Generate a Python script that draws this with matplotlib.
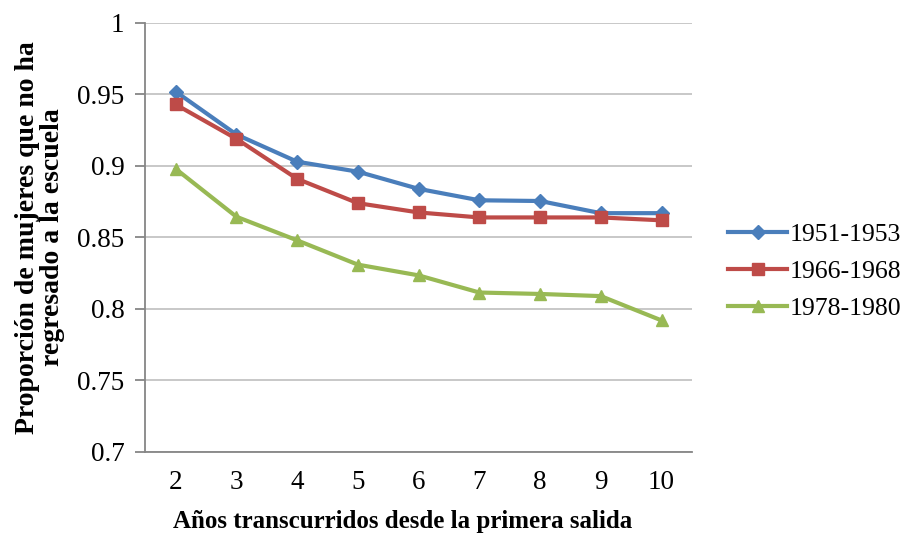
import matplotlib
matplotlib.use("Agg")
import matplotlib.pyplot as plt
from matplotlib.ticker import FixedLocator

plt.rcParams['font.family'] = ['Liberation Serif', 'DejaVu Serif']

years = [2, 3, 4, 5, 6, 7, 8, 9, 10]
cohort_1951 = [0.952, 0.922, 0.903, 0.896, 0.884, 0.876, 0.8755, 0.867, 0.867]
cohort_1966 = [0.943, 0.919, 0.891, 0.874, 0.8675, 0.864, 0.864, 0.864, 0.862]
cohort_1978 = [0.898, 0.8645, 0.848, 0.831, 0.8235, 0.8115, 0.8105, 0.809, 0.792]
series_labels = ['1951-1953', '1966-1968', '1978-1980']
y_ticks = [0.7, 0.75, 0.8, 0.85, 0.9, 0.95, 1.0]
y_tick_labels = ['0.7', '0.75', '0.8', '0.85', '0.9', '0.95', '1']

fig = plt.figure(figsize=(9.08, 5.34), dpi=100)
ax = fig.add_axes([0.16, 0.1536, 0.602, 0.8034])

styles = [
    dict(color='#4A7EBB', marker='D', markersize=7),
    dict(color='#BE4B48', marker='s', markersize=8),
    dict(color='#98B954', marker='^', markersize=9),
]
for vals, lab, st in zip([cohort_1951, cohort_1966, cohort_1978], series_labels, styles):
    ax.plot(years, vals, label=lab, linewidth=3, **st)

ax.set_xlim(1.5, 10.5)
ax.set_ylim(0.7, 1.0)
ax.set_xticks(years)
ax.set_xticklabels([str(y) for y in years])
ax.yaxis.set_major_locator(FixedLocator(y_ticks))
ax.set_yticklabels(y_tick_labels)

ax.grid(axis='y', color='#BFBFBF', linewidth=1.2)
ax.set_axisbelow(True)
for s in ['top', 'right']:
    ax.spines[s].set_visible(False)
for s in ['left', 'bottom']:
    ax.spines[s].set_color('#868686')
    ax.spines[s].set_linewidth(1.3)

ax.tick_params(axis='x', length=0, labelsize=19.5, pad=13)
ax.tick_params(axis='y', length=7, width=1.3, color='#868686', labelsize=19.5, pad=8)

ax.set_xlabel('Años transcurridos desde la primera salida', fontsize=18,
              fontweight='bold', va='center')
ax.xaxis.set_label_coords(0.47, -0.163)
ax.set_ylabel('Proporción de mujeres que no ha\nregresado a la escuela', fontsize=20,
              fontweight='bold', labelpad=9, linespacing=1.0)

ax.legend(loc='center left', bbox_to_anchor=(1.066, 0.42), frameon=False,
          fontsize=18.5, handlelength=2.3, handletextpad=0.12, labelspacing=0.55,
          borderaxespad=0, borderpad=0)

fig.savefig('out.png', dpi=100)
